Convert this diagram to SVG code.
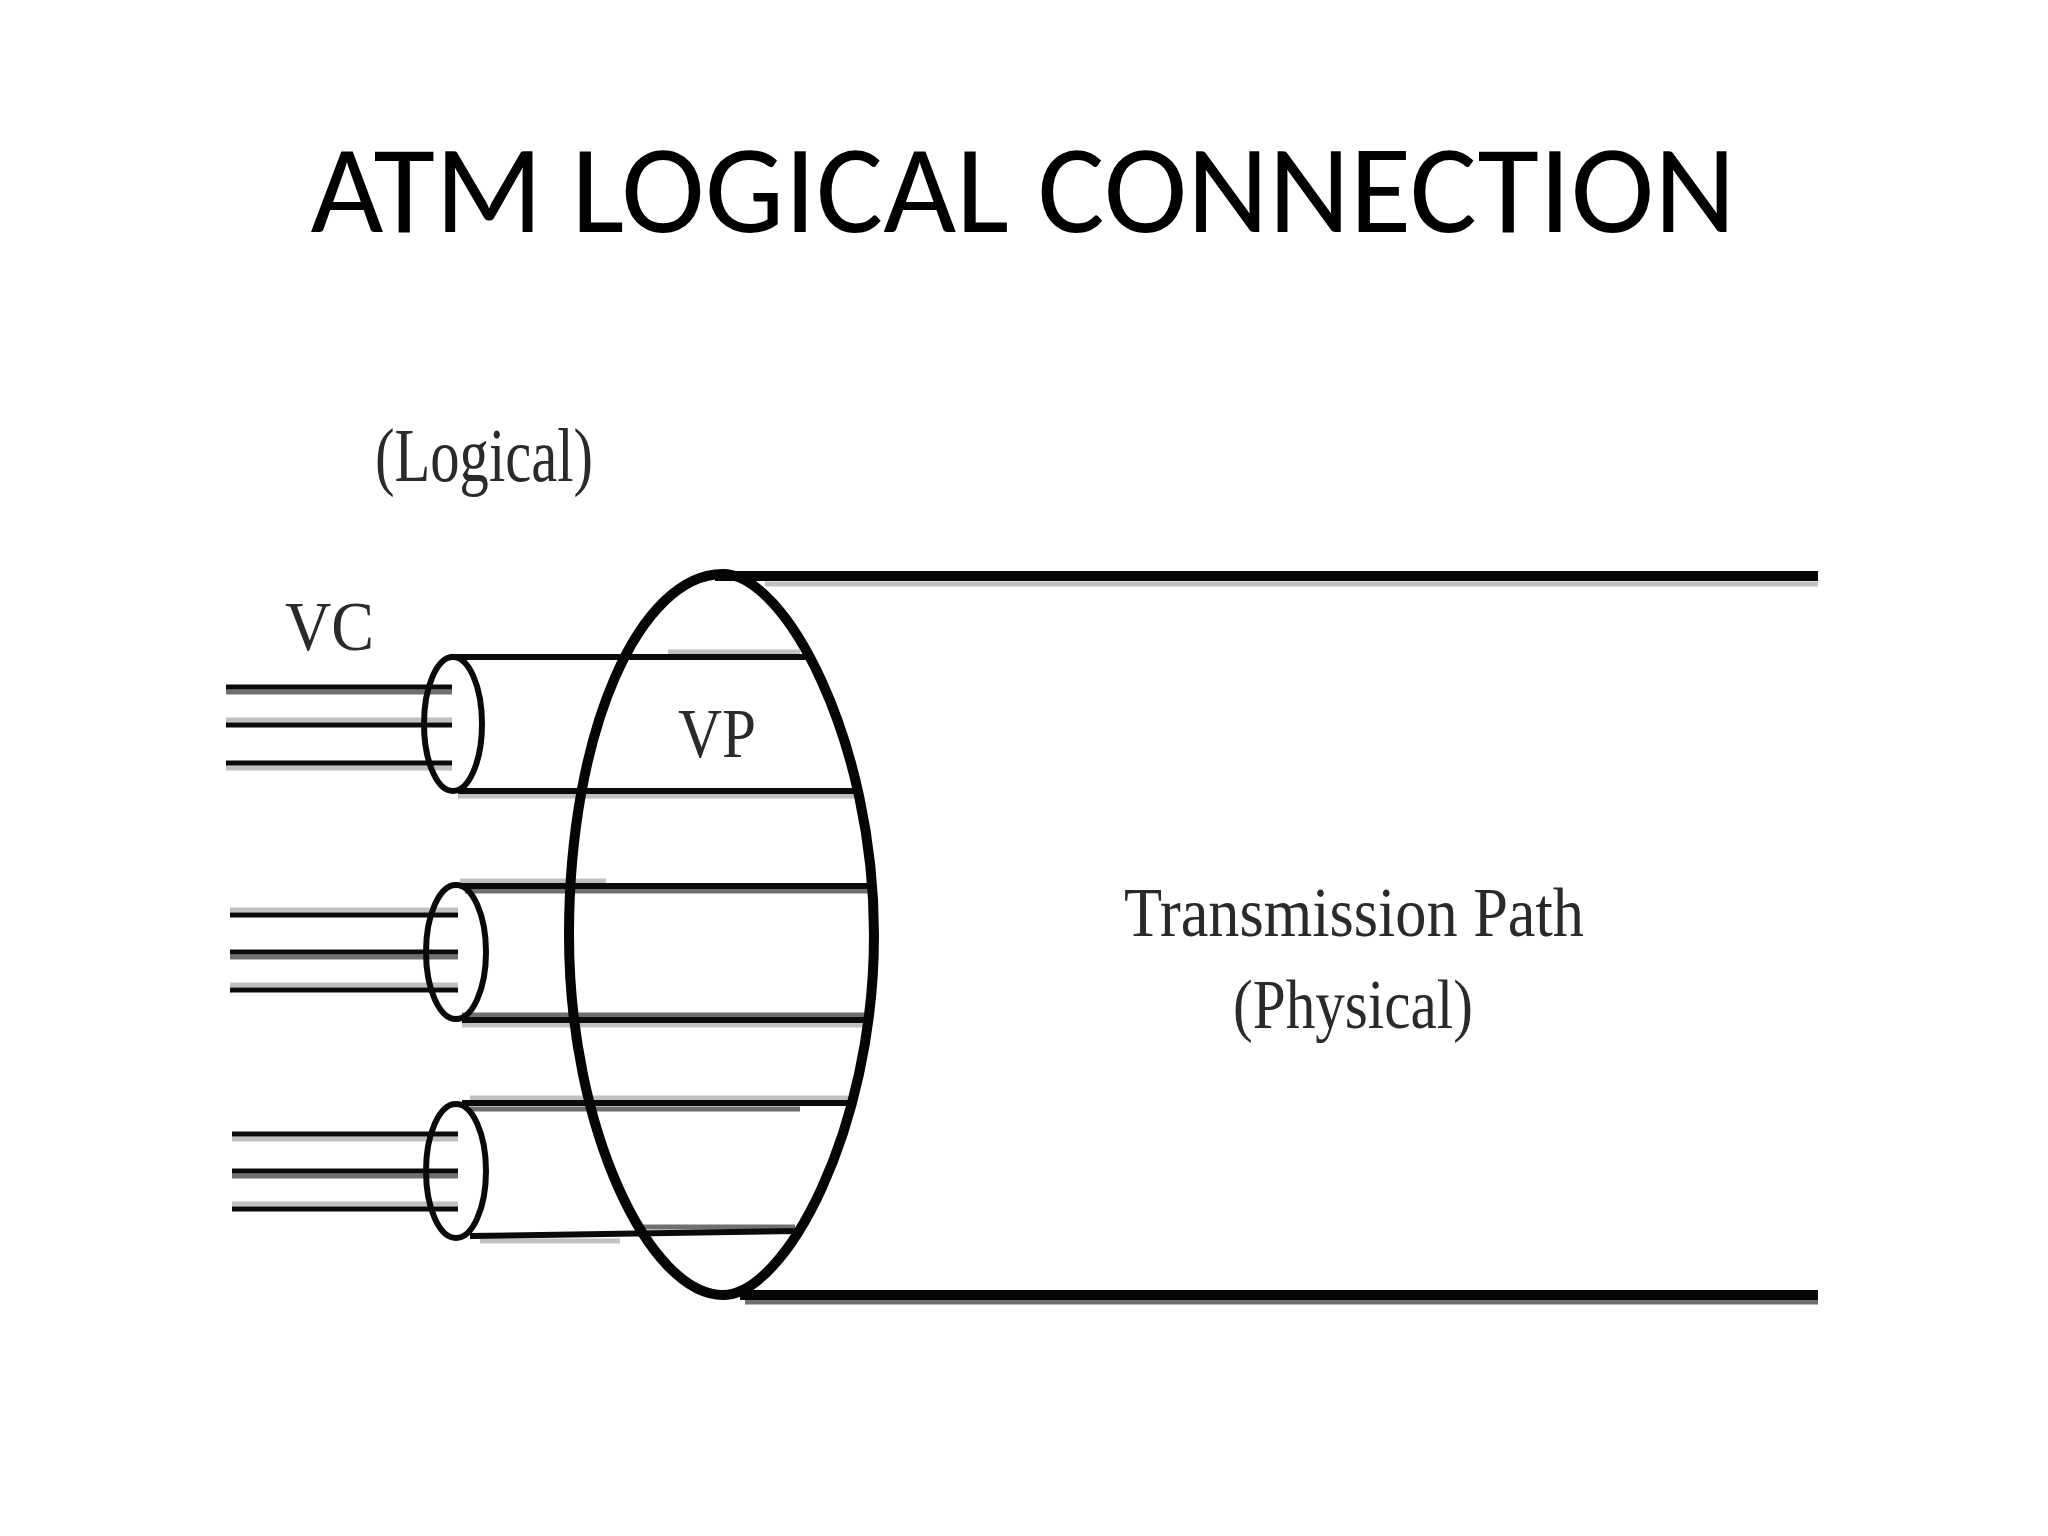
<svg xmlns="http://www.w3.org/2000/svg" width="2048" height="1536" viewBox="0 0 2048 1536">
<style>
.t{font-family:"Liberation Serif",serif;fill:#2a2a2a}
.l{fill:none;stroke:#0a0a0a;stroke-width:6}
.v{fill:none;stroke:#0a0a0a;stroke-width:5}
.b{fill:none;stroke:#050505;stroke-width:10}
.c{fill:none;stroke:#0a0a0a;stroke-width:6}
.s1{fill:none;stroke:#c0c0c0;stroke-width:5}
.s2{fill:none;stroke:#707070;stroke-width:5}
</style>
<rect width="2048" height="1536" fill="#fff"/>
<text x="1023" y="232" text-anchor="middle" font-family="Carlito,'Open Sans','Liberation Sans',sans-serif" font-size="126" fill="#000">ATM LOGICAL CONNECTION</text>
<g id="connectors">
<path class="s1" d="M765 584H1818M668 652H800M458 796H858M460 881H606M462 1025H866M470 1098H850M480 1241H620M226 720H452M226 768H452M230 910H458M230 985H458M232 1139H458M232 1204H458"/>
<path class="s2" d="M226 692H452M465 891H870M462 1015H870M470 1109H800M640 1227H795M230 957H458M232 1176H458M745 1302H1818"/>
<path class="b" d="M715 576H1818M740 1295H1818"/>
<path class="l" d="M450 657H806M458 791H858M460 886H872M462 1020H872M462 1103H855M470 1236L798 1231"/>
<path class="v" d="M226 687H452M226 725H452M226 763H452M230 915H458M230 952H458M230 990H458M232 1134H458M232 1171H458M232 1209H458"/>
</g>
<g id="vc1"><ellipse class="c" cx="453" cy="724" rx="29" ry="67"/></g>
<g id="vc2"><ellipse class="c" cx="456" cy="952" rx="30" ry="67"/></g>
<g id="vc3"><ellipse class="c" cx="456" cy="1171" rx="30" ry="67"/></g>
<g id="vp"><path class="b" d="M723 574C785 574 874 740 874 935C874 1130 785 1295 723 1295C650 1295 569 1130 569 935C569 730 640 574 723 574Z"/></g>
<text class="t" x="375" y="481" font-size="76" textLength="218" lengthAdjust="spacingAndGlyphs">(Logical)</text>
<text class="t" x="285" y="650" font-size="70" textLength="89" lengthAdjust="spacingAndGlyphs">VC</text>
<text class="t" x="678" y="757" font-size="70" textLength="78" lengthAdjust="spacingAndGlyphs">VP</text>
<text class="t" x="1124" y="936" font-size="70" textLength="460" lengthAdjust="spacingAndGlyphs">Transmission Path</text>
<text class="t" x="1233" y="1028" font-size="70" textLength="240" lengthAdjust="spacingAndGlyphs">(Physical)</text>
</svg>
